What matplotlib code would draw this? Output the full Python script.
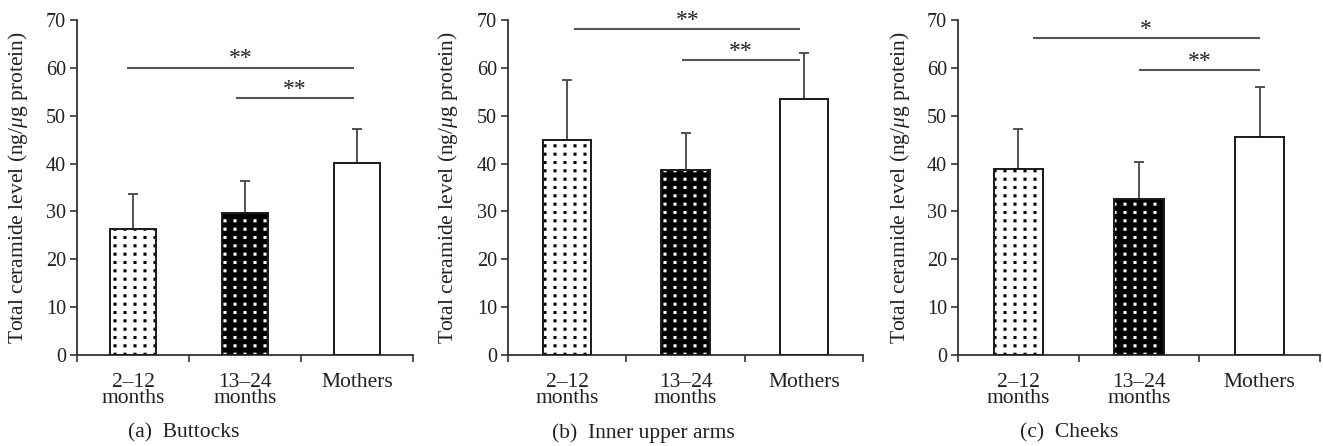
import numpy as np
import matplotlib
matplotlib.use("Agg")
import matplotlib.pyplot as plt
import matplotlib.hatch as mhatch
from matplotlib.path import Path

# ---------------- data ----------------
categories = ["2\u201312\nmonths", "13\u201324\nmonths", "Mothers"]
panels = ["(a)  Buttocks", "(b)  Inner upper arms", "(c)  Cheeks"]

buttocks_mean = [26.4, 29.6, 40.2]
buttocks_err = [7.2, 6.7, 7.0]
arms_mean = [44.9, 38.7, 53.4]
arms_err = [12.6, 7.6, 9.8]
cheeks_mean = [38.9, 32.6, 45.6]
cheeks_err = [8.3, 7.7, 10.5]

# significance brackets: (start, end, height, label)
buttocks_sig = [(-0.05, 1.97, 60.0, "**"), (0.92, 1.97, 53.6, "**")]
arms_sig = [(0.06, 1.97, 68.1, "**"), (0.97, 1.97, 61.6, "**")]
cheeks_sig = [(0.12, 2.0, 66.2, "*"), (1.0, 2.0, 59.5, "**")]

# ---------------- custom grid-dot hatch ----------------
class GridDots(mhatch.HatchPatternBase):
    def __init__(self, hatch, density):
        self.n = hatch.count('.')
        self.nx = 10 * self.n
        self.ny = 12 * self.n
        self.num_vertices = self.nx * self.ny * 5 if self.n else 0

    def set_vertices_and_codes(self, vertices, codes):
        s = 0.011
        k = 0
        for i in range(self.nx):
            for j in range(self.ny):
                x = (i + 0.5) / self.nx
                y = (j + 0.5) / self.ny
                vertices[k:k + 5] = [(x - s, y - s), (x + s, y - s), (x + s, y + s),
                                     (x - s, y + s), (x - s, y - s)]
                codes[k] = Path.MOVETO
                codes[k + 1:k + 4] = Path.LINETO
                codes[k + 4] = Path.CLOSEPOLY
                k += 5

mhatch._hatch_types = [h for h in mhatch._hatch_types
                       if h is not mhatch.SmallFilledCircles] + [GridDots]

# ---------------- style ----------------
TXT = "#231f20"
FS = 15.5
plt.rcParams['font.family'] = ['Liberation Serif', 'DejaVu Serif']
plt.rcParams['mathtext.fontset'] = 'custom'
plt.rcParams['mathtext.rm'] = 'Liberation Serif'
plt.rcParams['mathtext.it'] = 'Liberation Serif:italic'
plt.rcParams['hatch.linewidth'] = 0.6
plt.rcParams['font.size'] = FS

fig = plt.figure(figsize=(13.23, 4.46), dpi=100)
W, H = 1323, 446
axes_px = [(77, 413), (508, 863), (958, 1320)]
ylab_x = [-0.14, -0.135, -0.127]
cap_x = [184, 643, 1069]
means = [buttocks_mean, arms_mean, cheeks_mean]
errs = [buttocks_err, arms_err, cheeks_err]
sigs = [buttocks_sig, arms_sig, cheeks_sig]

bottom = (H - 355) / H
height = 335 / H
x = np.arange(len(categories))

for p in range(3):
    l, r = axes_px[p]
    ax = fig.add_axes([l / W, bottom, (r - l) / W, height])
    m, e = means[p], errs[p]
    # bar 1: white with black dots
    ax.bar(x[0], m[0], width=0.41, color='white', edgecolor='black', hatch='.', linewidth=0, zorder=2)
    ax.bar(x[0], m[0], width=0.41, fill=False, edgecolor='#1a1a1a', linewidth=1.4, zorder=3)
    # bar 2: black with white dots
    ax.bar(x[1], m[1], width=0.41, color='black', edgecolor='white', hatch='.', linewidth=0, zorder=2)
    ax.bar(x[1], m[1], width=0.41, fill=False, edgecolor='#1a1a1a', linewidth=1.4, zorder=3)
    # bar 3: white
    ax.bar(x[2], m[2], width=0.41, color='white', edgecolor='#1a1a1a', linewidth=1.4, zorder=3)
    # upper error bars
    ax.errorbar(x, m, yerr=[np.zeros(3), e], fmt='none', ecolor='#444444',
                elinewidth=1.3, capsize=3.5, capthick=1.3, zorder=1)
    # significance lines
    for (s0, s1, yv, lab) in sigs[p]:
        ax.plot([s0, s1], [yv, yv], color='#555555', lw=1.5, solid_capstyle='butt')
        ax.text((s0 + s1) / 2, yv - 0.3, lab, ha='center', va='bottom', color=TXT, fontsize=17)

    ax.set_xlim(-0.5, 2.5)
    ax.set_ylim(0, 70)
    ax.set_yticks(np.arange(0, 71, 10))
    ax.set_xticks([-0.5, 0.5, 1.5, 2.5])
    ax.set_xticklabels([])
    ax.set_xticks(x, minor=True)
    ax.set_xticklabels(categories, minor=True, linespacing=0.78)
    ax.tick_params(axis='x', which='minor', length=0, pad=13, colors=TXT, labelsize=FS)
    ax.tick_params(axis='x', which='major', length=5, width=1.2, color='#333333', direction='out')
    ax.tick_params(axis='y', length=5, width=1.2, color='#333333', labelcolor=TXT,
                   labelsize=14.5, pad=3)
    for sp in ['top', 'right']:
        ax.spines[sp].set_visible(False)
    for sp in ['left', 'bottom']:
        ax.spines[sp].set_color('#333333')
        ax.spines[sp].set_linewidth(1.3)
    ax.set_ylabel(r"Total ceramide level (ng/$\mathit{\mu}$g protein)", color=TXT, fontsize=FS)
    ax.yaxis.set_label_coords(ylab_x[p], 0.5)
    fig.text(cap_x[p] / W, 1 - 433 / H, panels[p], ha='center', va='center', color=TXT, fontsize=FS)

fig.savefig("out.png", dpi=100)
